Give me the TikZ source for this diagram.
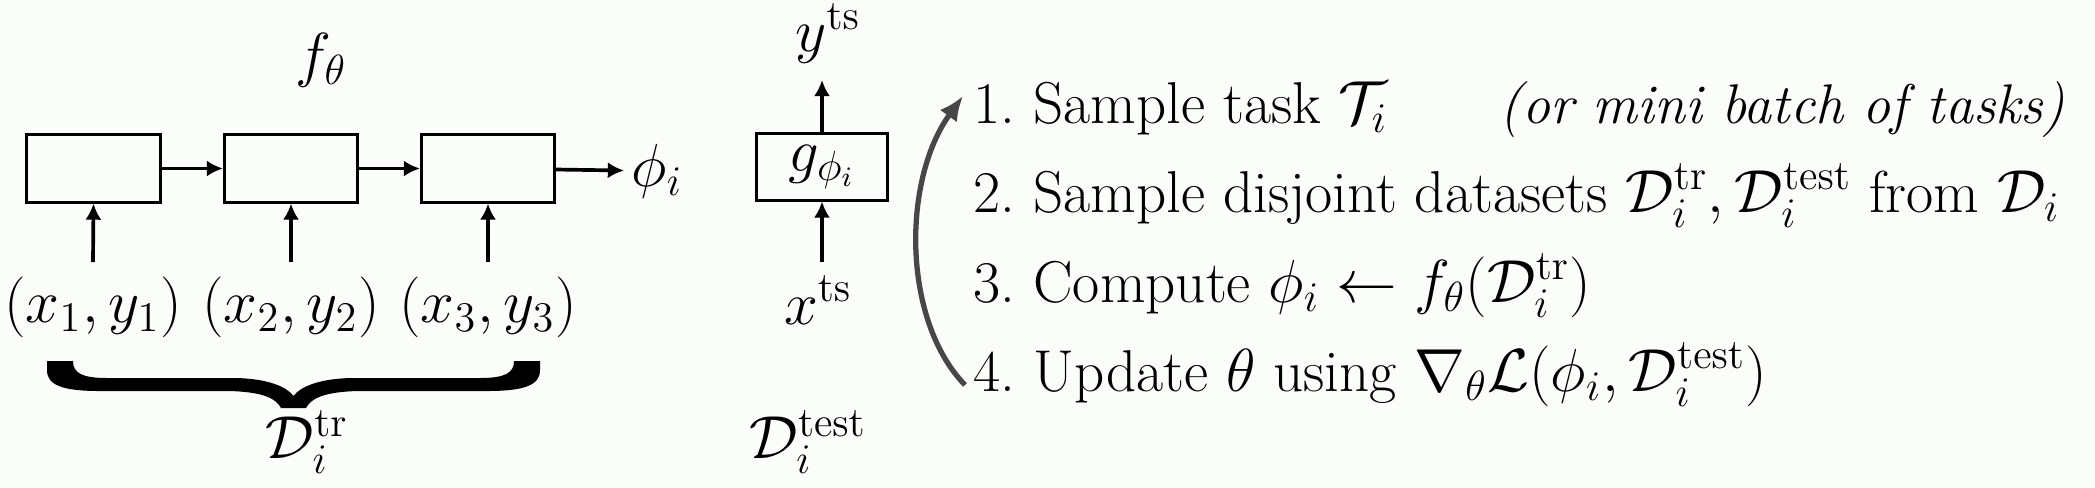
\documentclass[tikz,border=0pt]{standalone}
\usetikzlibrary{arrows.meta}
\begin{document}
\begin{tikzpicture}[x=0.01cm,y=-0.01cm,
  every node/.style={font=\fontsize{16.8}{20}\selectfont},
  blk/.style={draw,line width=0.85pt,minimum width=1.33cm,minimum height=0.67cm,inner sep=0pt},
  arr/.style={line width=1.05pt,-{Latex[length=4.6pt,width=4.6pt]}},
  curv/.style={line width=1.5pt,draw=black!72,-{Latex[length=7pt,width=6pt]}},
  txt/.style={anchor=base west,inner sep=0pt}]
\fill[fill={rgb,255:red,250;green,253;blue,249}] (0,0) rectangle (2095,487);
\useasboundingbox (0,0) rectangle (2095,487);
% left: f_theta
\node (f) at (321,60) {$f_\theta$};
\node[blk] (b1) at (93.5,168.5) {};
\node[blk] (b2) at (291,168.5) {};
\node[blk] (b3) at (488,168.5) {};
\node[anchor=west,inner sep=2pt] (phi) at (624,171) {$\phi_i$};
\draw[arr] (b1) -- (b2);
\draw[arr] (b2) -- (b3);
\draw[arr] (b3) -- (phi);
\node (l1) at (93,307) {$(x_1,y_1)$};
\node (l2) at (291,307) {$(x_2,y_2)$};
\node (l3) at (488,307) {$(x_3,y_3)$};
\draw[arr] (l1.north |- 0,262) -- (b1.south);
\draw[arr] (l2.north |- 0,262) -- (b2.south);
\draw[arr] (l3.north |- 0,262) -- (b3.south);
% brace
\fill (47,361) -- (47,370) .. controls (47,385) and (62,391) .. (100,391) -- (230,391)
  .. controls (262,392) and (276,398) .. (281,408) -- (306,408)
  .. controls (311,398) and (325,392) .. (357,391) -- (487,391)
  .. controls (525,391) and (540,385) .. (540,370) -- (540,361) -- (514,361)
  .. controls (514,373) and (505,378) .. (480,378) -- (350,378)
  .. controls (318,379) and (300,387) .. (293.5,396)
  .. controls (287,387) and (269,379) .. (237,378) -- (107,378)
  .. controls (82,378) and (73,373) .. (73,361) -- cycle;
\node (dtr) at (307,442) {$\mathcal{D}_i^{\mathrm{tr}}$};
% middle
\node[blk,minimum width=1.3cm,minimum height=0.66cm] (g) at (822,167) {$g_{\phi_i}$};
\node (yts) at (828,33) {$y^{\mathrm{ts}}$};
\node (xts) at (818,300) {$x^{\mathrm{ts}}$};
\draw[arr] (g.north) -- (g.north |- 0,80);
\draw[arr] (g.south |- 0,262) -- (g.south);
\node (dte) at (808,442) {$\mathcal{D}_i^{\mathrm{test}}$};
% right text
\node[txt] (s1) at (973,123) {1.\ Sample task $\mathcal{T}_i$};
\node[txt,anchor=base east,font=\fontsize{15.9}{19}\selectfont] (s1b) at (2066,123) {\itshape (or mini batch of tasks)};
\node[txt] (s2) at (973,212) {2.\ Sample disjoint datasets $\mathcal{D}_i^{\mathrm{tr}},\mathcal{D}_i^{\mathrm{test}}$ from $\mathcal{D}_i$};
\node[txt] (s3) at (973,302) {3.\ Compute $\phi_i\leftarrow f_\theta(\mathcal{D}_i^{\mathrm{tr}})$};
\node[txt] (s4) at (973,391) {4.\ Update $\theta$ using $\nabla_\theta\mathcal{L}(\phi_i,\mathcal{D}_i^{\mathrm{test}})$};
\coordinate (c4) at (965,385);
\coordinate (c1) at (963,96);
\draw[curv] (c4) .. controls (902,320) and (902,180) .. (c1);
\end{tikzpicture}
\end{document}
